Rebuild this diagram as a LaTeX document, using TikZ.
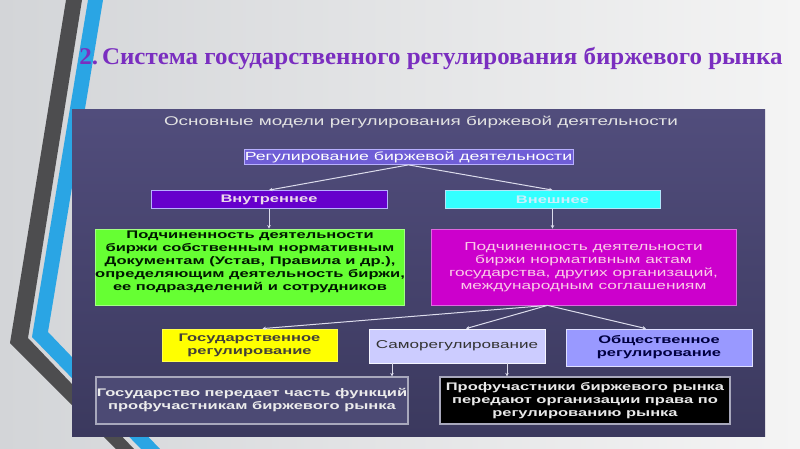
\documentclass[tikz,border=0pt]{standalone}
\usepackage{fontspec}
\setmainfont{Liberation Sans}
\newfontfamily\wsans[FakeStretch=1.5]{Liberation Sans}
\newfontfamily\titlefont[FakeStretch=1.04]{Liberation Serif}
\usetikzlibrary{arrows.meta}
\definecolor{bgL}{HTML}{D3D5D8}
\definecolor{bgR}{HTML}{F4F4F4}
\definecolor{stripeDark}{HTML}{4D4D4F}
\definecolor{stripeBlue}{HTML}{2AA5E4}
\definecolor{titleClr}{HTML}{7A2EC0}
\definecolor{panelTop}{HTML}{514D7C}
\definecolor{panelBot}{HTML}{3B395E}
\definecolor{lineClr}{HTML}{DCDCEC}
\definecolor{topFill}{HTML}{6F5ED6}
\definecolor{topLine}{HTML}{B8B0FF}
\definecolor{vnutrFill}{HTML}{6600CC}
\definecolor{vneshFill}{HTML}{33FFFF}
\definecolor{greenFill}{HTML}{66FF33}
\definecolor{magFill}{HTML}{CC00CC}
\definecolor{yelFill}{HTML}{FFFF00}
\definecolor{samFill}{HTML}{CCCCFF}
\definecolor{obshFill}{HTML}{9999FF}
\definecolor{blFill}{HTML}{4C4A74}
\definecolor{grayLine}{HTML}{A8A8BC}
\tikzset{
  box/.style={draw=lineClr, line width=0.8pt, inner sep=0pt, align=center,
    font=\wsans\fontsize{11}{13}\selectfont},
  boxb/.style={box, font=\wsans\bfseries\fontsize{11}{13}\selectfont},
  conn/.style={draw=lineClr, line width=1pt, -{Stealth[length=3.5pt,width=3.5pt]}},
}
\begin{document}
\begin{tikzpicture}[x=1pt,y=-1pt]
\useasboundingbox (0,0) rectangle (800,449);
% background
\shade[left color=bgL, right color=bgR] (0,0) rectangle (800,449);
% stripes
\fill[stripeDark] (66,0) -- (82,0) -- (28,338) -- (134,449) -- (116,449) -- (10,343) -- cycle;
\fill[stripeBlue] (88,0) -- (103,0) -- (48,332) -- (160,449) -- (141,449) -- (32,337) -- cycle;
% title
\node[text=titleClr, font=\titlefont\bfseries\fontsize{24}{28}\selectfont, anchor=center] (title) at (431,59)
  {2.\,Система государственного регулирования биржевого рынка};
% panel
\shade[top color=panelTop, bottom color=panelBot] (72,110) rectangle (765,436);
\node[text=white!78!gray, font=\wsans\fontsize{12.6}{14}\selectfont] (head) at (421,122)
  {Основные модели регулирования биржевой деятельности};
% boxes
\node[box, draw=topLine, fill=topFill, text=white, font=\wsans\fontsize{11.8}{13}\selectfont, minimum width=329pt, minimum height=15pt] (top) at (408.5,157)
  {Регулирование биржевой деятельности};
\node[boxb, draw=topLine, fill=vnutrFill, text=white!85!violet, minimum width=236pt, minimum height=18pt] (vnutr) at (269,199.5)
  {Внутреннее};
\node[boxb, draw=white!70!cyan, fill=vneshFill, text=white!80!cyan, minimum width=215pt, minimum height=18pt] (vnesh) at (552.5,199.5)
  {Внешнее};
\node[boxb, draw=greenFill!60!white, fill=greenFill, text=black!90!green, minimum width=308pt, minimum height=76pt] (green) at (250,267)
  {Подчиненность деятельности\\биржи собственным нормативным\\Документам (Устав, Правила и др.),\\определяющим деятельность биржи,\\ее подразделений и сотрудников\\ \mbox{}};
\node[box, draw=magFill!60!white, fill=magFill, text=white!80!magenta, font=\wsans\fontsize{11.5}{13}\selectfont, minimum width=305pt, minimum height=76pt] (mag) at (583.5,267)
  {Подчиненность деятельности\\биржи нормативным актам\\государства, других организаций,\\международным соглашениям};
\node[boxb, draw=yelFill!70!white, fill=yelFill, text=black!85!yellow, minimum width=175pt, minimum height=32pt] (yel) at (249.5,345)
  {Государственное\\регулирование};
\node[box, draw=white!80!samFill, fill=samFill, text=black!80, font=\wsans\fontsize{11.4}{13}\selectfont, minimum width=176pt, minimum height=34pt] (sam) at (457,346)
  {Саморегулирование};
\node[boxb, draw=white!70!obshFill, fill=obshFill, text=black!75!blue, minimum width=186pt, minimum height=37pt] (obsh) at (659,347.5)
  {Общественное\\регулирование};
\node[boxb, draw=grayLine, line width=1.2pt, fill=blFill, text=white!85!gray, minimum width=312pt, minimum height=47pt] (bl) at (252,400.5)
  {Государство передает часть функций\\профучастникам биржевого рынка};
\node[boxb, draw=grayLine, line width=1.2pt, fill=black, text=white!82!gray, minimum width=290pt, minimum height=47pt] (br) at (585,400.5)
  {Профучастники биржевого рынка\\передают организации права по\\регулированию рынка};
% connectors
\draw[conn] (top.south) -- (vnutr.north);
\draw[conn] (top.south) -- (vnesh.north);
\draw[conn] (vnutr.south) -- (vnutr.south |- green.north);
\draw[conn] (vnesh.south) -- (vnesh.south |- mag.north);
\draw[conn] ([xshift=-36pt]mag.south) -- ([xshift=13pt]yel.north);
\draw[conn] ([xshift=-36pt]mag.south) -- ([xshift=9pt]sam.north);
\draw[conn] ([xshift=-36pt]mag.south) -- ([xshift=-13pt]obsh.north);
\draw[conn] ([xshift=-65pt]sam.south) -- ([xshift=-65pt]sam.south |- bl.north);
\draw[conn] ([xshift=50pt]sam.south) -- ([xshift=50pt]sam.south |- br.north);
\end{tikzpicture}
\end{document}
